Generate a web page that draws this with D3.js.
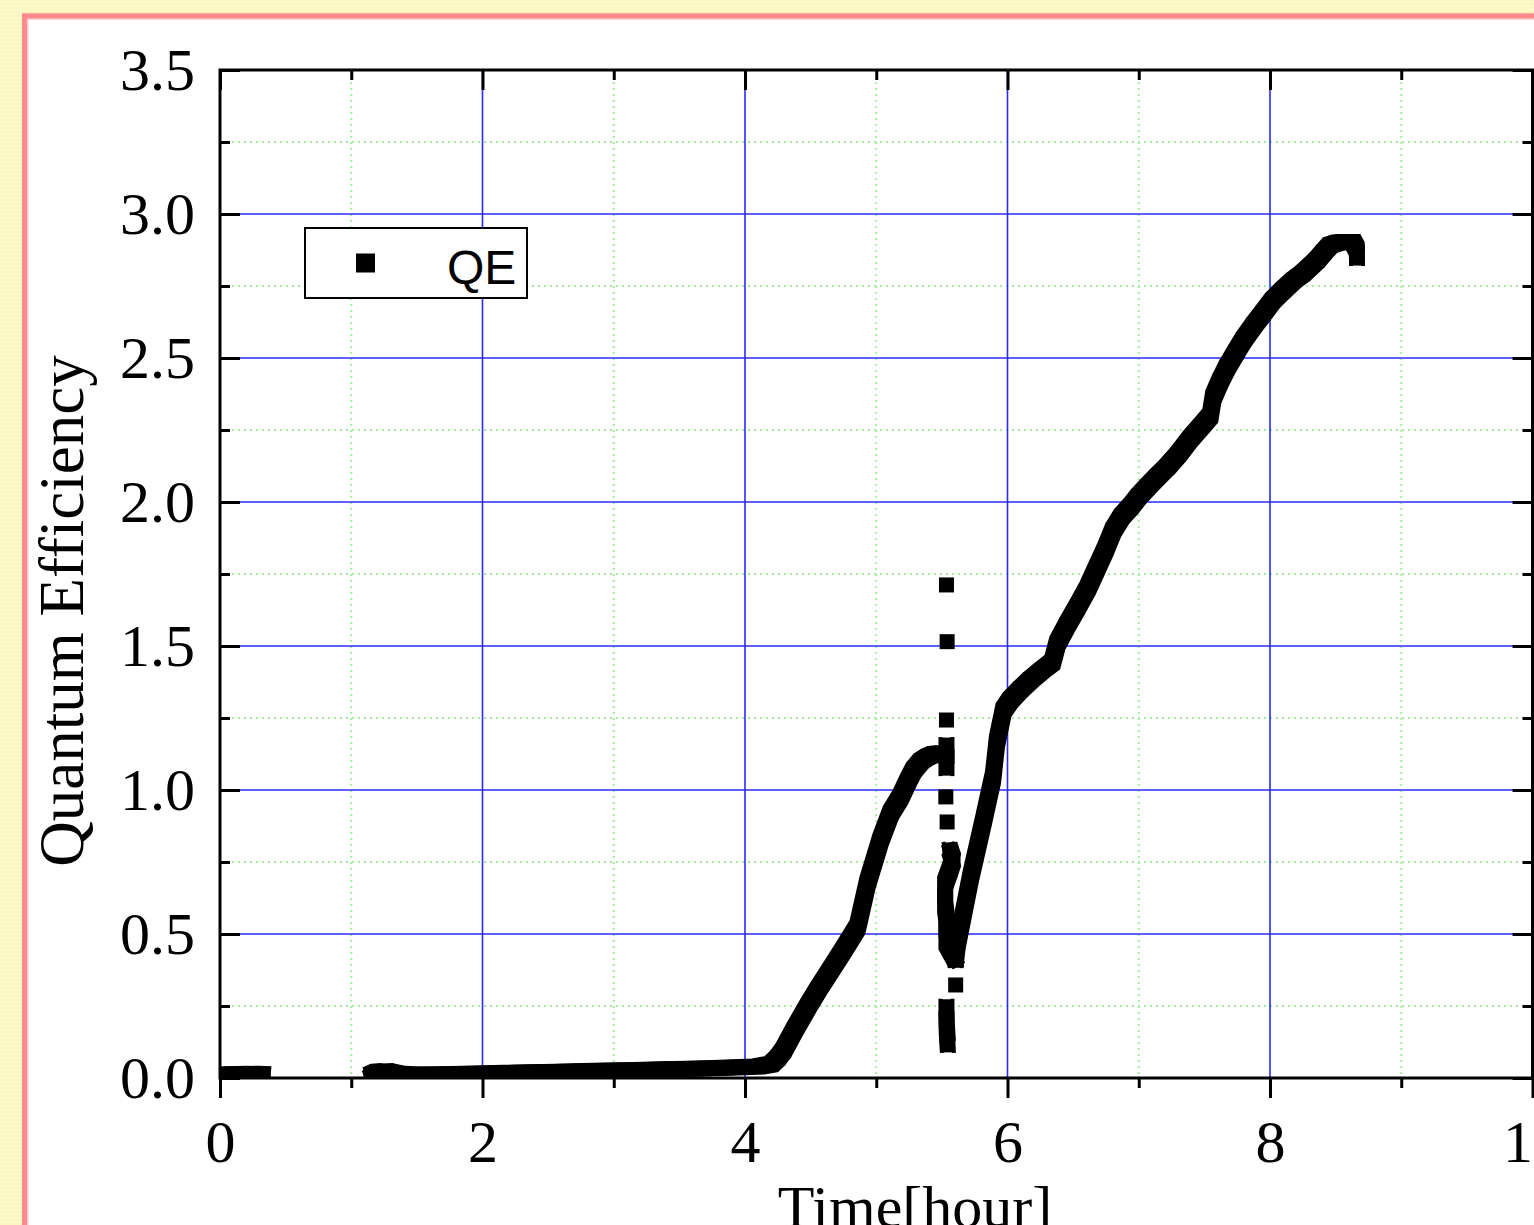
<!DOCTYPE html>
<html>
<head>
<meta charset="utf-8">
<script src="https://cdn.jsdelivr.net/npm/d3@7"></script>
<style>
  html, body { margin: 0; padding: 0; background: #fdf8c8; }
  svg { display: block; }
</style>
</head>
<body>
<svg id="chart" width="1534" height="1225"></svg>
<script>
// ---------------- DATA ----------------
const xMajorTicks = [0, 2, 4, 6, 8, 10];
const xMinorTicks = [1, 3, 5, 7, 9];
const yMajorTicks = [0.0, 0.5, 1.0, 1.5, 2.0, 2.5, 3.0, 3.5];
const yMinorTicks = [0.25, 0.75, 1.25, 1.75, 2.25, 2.75, 3.25];
const seriesName = "QE";
const xTitle = "Time[hour]";
const yTitle = "Quantum Efficiency";

// continuous runs of densely sampled QE points [time(hour), QE]
const qeRunStart = [[0.00, 0.012], [0.08, 0.013], [0.17, 0.014], [0.25, 0.015], [0.33, 0.013]];
const qeRunRise = [
  [1.15, 0.012], [1.20, 0.022], [1.27, 0.024], [1.35, 0.016], [1.45, 0.012], [1.60, 0.012],
  [1.80, 0.014], [2.00, 0.016], [2.20, 0.018], [2.40, 0.020], [2.60, 0.022], [2.80, 0.024],
  [3.00, 0.026], [3.20, 0.028], [3.40, 0.030], [3.60, 0.032], [3.80, 0.035], [4.00, 0.038],
  [4.10, 0.040], [4.20, 0.048], [4.25, 0.070], [4.294, 0.097], [4.38, 0.170], [4.477, 0.247],
  [4.56, 0.310], [4.652, 0.375], [4.75, 0.445], [4.857, 0.524], [4.933, 0.677], [5.032, 0.826],
  [5.11, 0.920], [5.185, 0.976], [5.24, 1.030], [5.284, 1.069], [5.34, 1.100], [5.39, 1.115],
  [5.44, 1.125], [5.50, 1.128]
];
const qeRunDropTop = [[5.535, 1.156], [5.535, 1.115], [5.535, 1.076]];
const qeRunDropMid = [
  [5.56, 0.792], [5.585, 0.757], [5.56, 0.722], [5.525, 0.677], [5.525, 0.635], [5.525, 0.594],
  [5.535, 0.560], [5.535, 0.525], [5.535, 0.469], [5.57, 0.440], [5.605, 0.410]
];
const qeRunDropLow = [[5.535, 0.247], [5.535, 0.200], [5.54, 0.150], [5.545, 0.115]];
const qeRunRecover = [
  [5.605, 0.410], [5.62, 0.470], [5.72, 0.700], [5.82, 0.900], [5.89, 1.045], [5.92, 1.170],
  [5.97, 1.278], [6.022, 1.3125], [6.10, 1.350], [6.174, 1.382], [6.26, 1.415], [6.342, 1.444],
  [6.38, 1.510], [6.45, 1.570], [6.532, 1.635], [6.61, 1.700], [6.684, 1.774], [6.75, 1.840],
  [6.806, 1.903], [6.87, 1.950], [6.936, 1.983], [7.00, 2.020], [7.065, 2.052], [7.14, 2.087],
  [7.217, 2.122], [7.30, 2.165], [7.393, 2.220], [7.47, 2.260], [7.545, 2.300], [7.568, 2.365],
  [7.62, 2.420], [7.674, 2.469], [7.74, 2.520], [7.796, 2.5625], [7.87, 2.610], [7.948, 2.656],
  [8.02, 2.700], [8.10, 2.736], [8.18, 2.770], [8.253, 2.795], [8.359, 2.840], [8.41, 2.868],
  [8.458, 2.892], [8.51, 2.900], [8.557, 2.903], [8.633, 2.903], [8.66, 2.880], [8.663, 2.865],
  [8.663, 2.847]
];
// isolated, separated QE points
const qeIsolated = [[5.535, 1.712], [5.54, 1.515], [5.535, 1.243], [5.53, 0.976], [5.54, 0.889], [5.605, 0.323]];

const qeRuns = [qeRunStart, qeRunRise, qeRunDropTop, qeRunDropMid, qeRunDropLow, qeRunRecover];

// ---------------- CHART ----------------
(function () {
const svg = d3.select("#chart");
const W = 1534, H = 1225;
const pL = 220, pR = 1532.5, pT = 70, pB = 1078;

const x = d3.scaleLinear().domain([0, 10]).range([pL, pR]);
const y = d3.scaleLinear().domain([0, 3.5]).range([pB, pT]);

const defs = svg.append("defs");
const pat = defs.append("pattern").attr("id", "bgpat")
  .attr("width", 4).attr("height", 4).attr("patternUnits", "userSpaceOnUse");
pat.append("rect").attr("width", 4).attr("height", 4).attr("fill", "#fcf6bf");
pat.append("rect").attr("x", 1).attr("y", 1).attr("width", 1.6).attr("height", 1.6).attr("fill", "#fffbe8");
defs.append("clipPath").attr("id", "plotclip")
  .append("rect").attr("x", pL).attr("y", pT).attr("width", pR - pL).attr("height", pB - pT);

// page background & frame
svg.append("rect").attr("width", W).attr("height", H).attr("fill", "url(#bgpat)");
svg.append("rect").attr("x", 24.75).attr("y", 16).attr("width", 2000).attr("height", 2000)
  .attr("fill", "#ffffff").attr("stroke", "#ff8a8e").attr("stroke-width", 5.5);
svg.append("rect").attr("x", 28).attr("y", 19.3).attr("width", 2000).attr("height", 2000)
  .attr("fill", "none").attr("stroke", "#ffd0d0").attr("stroke-width", 1);

// grid
const grid = svg.append("g");
grid.selectAll("line.xminor").data(xMinorTicks).join("line")
  .attr("x1", d => x(d)).attr("x2", d => x(d)).attr("y1", pT).attr("y2", pB)
  .attr("stroke", "#9ff09f").attr("stroke-width", 2).attr("stroke-dasharray", "2,4");
grid.selectAll("line.yminor").data(yMinorTicks).join("line")
  .attr("y1", d => y(d)).attr("y2", d => y(d)).attr("x1", pL).attr("x2", pR)
  .attr("stroke", "#9ff09f").attr("stroke-width", 2).attr("stroke-dasharray", "2,4");
grid.selectAll("line.xmajor").data(xMajorTicks.filter(d => d > 0 && d < 10)).join("line")
  .attr("x1", d => x(d)).attr("x2", d => x(d)).attr("y1", pT).attr("y2", pB)
  .attr("stroke", "#2a2aff").attr("stroke-width", 1.6);
grid.selectAll("line.ymajor").data(yMajorTicks.filter(d => d > 0 && d < 3.5)).join("line")
  .attr("y1", d => y(d)).attr("y2", d => y(d)).attr("x1", pL).attr("x2", pR)
  .attr("stroke", "#2a2aff").attr("stroke-width", 1.6);

// data: dense square markers, swept along each continuous run
const dataG = svg.append("g").attr("clip-path", "url(#plotclip)");
const line = d3.line().x(d => x(d[0])).y(d => y(d[1]));
const sweep = [[0, 0, 14], [-6, -6, 4], [6, -6, 4], [-6, 6, 4], [6, 6, 4]];
qeRuns.forEach(run => {
  sweep.forEach(o => {
    dataG.append("path").attr("d", line(run))
      .attr("transform", `translate(${o[0]},${o[1]})`)
      .attr("fill", "none").attr("stroke", "#000").attr("stroke-width", o[2])
      .attr("stroke-linecap", "square").attr("stroke-linejoin", "round");
  });
});
const allPts = qeRuns.flat().concat(qeIsolated);
dataG.selectAll("rect.pt").data(allPts).join("rect")
  .attr("x", d => x(d[0]) - 7.5).attr("y", d => y(d[1]) - 7.5)
  .attr("width", 15).attr("height", 15).attr("fill", "#000");

// axes
const serif = "'Liberation Serif', 'Times New Roman', serif";
function styleAxis(g) {
  g.select(".domain").remove();
  g.selectAll(".tick line").attr("stroke", "#000").attr("stroke-width", 3);
  g.selectAll("text").attr("font-family", serif).attr("font-size", 60).attr("fill", "#000");
}
svg.append("g").attr("transform", `translate(0,${pB})`)
  .call(d3.axisBottom(x).tickValues(xMajorTicks).tickSize(20).tickPadding(21).tickFormat(d3.format("d")))
  .call(styleAxis);
svg.append("g").attr("transform", `translate(0,${pB})`)
  .call(d3.axisBottom(x).tickValues(xMinorTicks).tickSize(10).tickFormat(""))
  .call(styleAxis);
svg.append("g").attr("transform", `translate(0,${pT})`)
  .call(d3.axisTop(x).tickValues(xMajorTicks).tickSize(-20).tickFormat(""))
  .call(styleAxis);
svg.append("g").attr("transform", `translate(0,${pT})`)
  .call(d3.axisTop(x).tickValues(xMinorTicks).tickSize(-10).tickFormat(""))
  .call(styleAxis);
svg.append("g").attr("transform", `translate(${pL},0)`)
  .call(d3.axisLeft(y).tickValues(yMajorTicks).tickSize(-20).tickPadding(25).tickFormat(d3.format(".1f")))
  .call(styleAxis);
svg.append("g").attr("transform", `translate(${pL},0)`)
  .call(d3.axisLeft(y).tickValues(yMinorTicks).tickSize(-10).tickFormat(""))
  .call(styleAxis);
svg.append("g").attr("transform", `translate(${pR},0)`)
  .call(d3.axisRight(y).tickValues(yMajorTicks).tickSize(-20).tickFormat(""))
  .call(styleAxis);
svg.append("g").attr("transform", `translate(${pR},0)`)
  .call(d3.axisRight(y).tickValues(yMinorTicks).tickSize(-10).tickFormat(""))
  .call(styleAxis);

// frame
svg.append("rect").attr("x", pL).attr("y", pT).attr("width", pR - pL).attr("height", pB - pT)
  .attr("fill", "none").attr("stroke", "#000").attr("stroke-width", 3);

// titles
svg.append("text").attr("x", 915).attr("y", 1227).attr("text-anchor", "middle")
  .attr("font-family", serif).attr("font-size", 60).text(xTitle);
svg.append("text").attr("transform", "translate(83,611) rotate(-90)").attr("text-anchor", "middle")
  .attr("font-family", serif).attr("font-size", 63).text(yTitle);

// legend
const lg = svg.append("g");
lg.append("rect").attr("x", 305).attr("y", 228).attr("width", 222).attr("height", 70)
  .attr("fill", "#fff").attr("stroke", "#000").attr("stroke-width", 2);
lg.append("rect").attr("x", 356).attr("y", 253.5).attr("width", 19).attr("height", 19).attr("fill", "#000");
lg.append("text").attr("x", 447).attr("y", 284)
  .attr("font-family", "'Liberation Sans', Arial, sans-serif").attr("font-size", 48).text(seriesName);
})();
</script>
</body>
</html>
